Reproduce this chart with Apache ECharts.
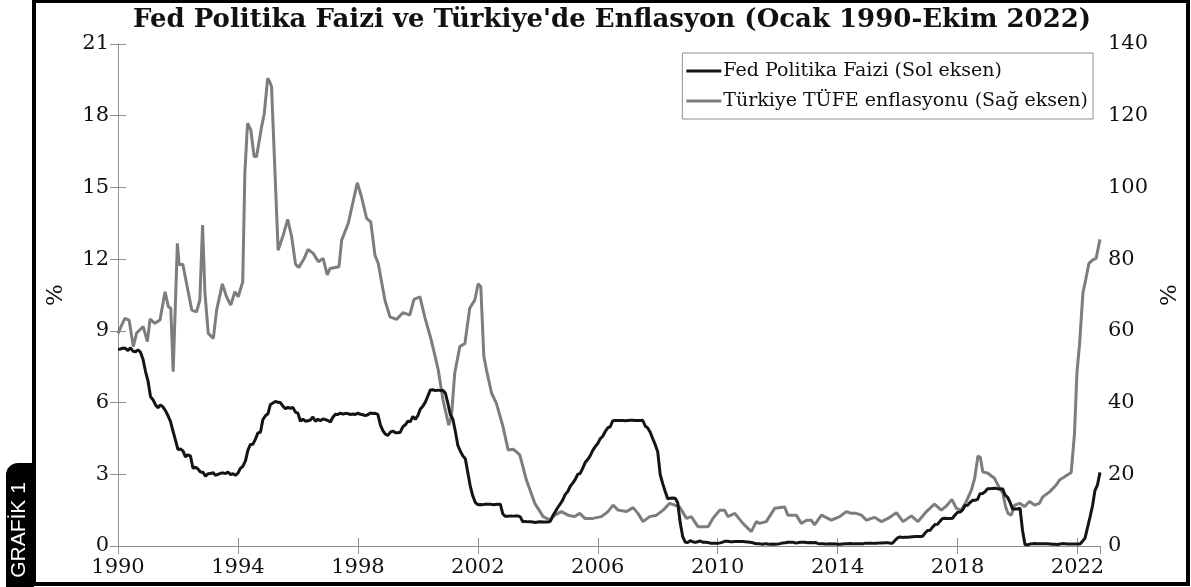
<!DOCTYPE html>
<html><head><meta charset="utf-8">
<script src="https://cdn.jsdelivr.net/npm/echarts@6/dist/echarts.min.js"></script>
<style>html,body{margin:0;padding:0;background:#fff}#c{width:1191px;height:587px}</style>
</head><body><div id="c"></div>
<script>
const titleText = "Fed Politika Faizi ve Türkiye'de Enflasyon (Ocak 1990-Ekim 2022)";
const seriesNames = ['Fed Politika Faizi (Sol eksen)', 'Türkiye TÜFE enflasyonu (Sağ eksen)'];
const xTickLabels = ['1990','1994','1998','2002','2006','2010','2014','2018','2022'];
const leftTicks = [0,3,6,9,12,15,18,21];
const rightTicks = [0,20,40,60,80,100,120,140];
const sideLabel = 'GRAFİK 1';
const startYear = 1990;

// Fed policy rate, monthly from Jan 1990 to Oct 2022 (left axis, %)
const fedRate = [
8.23,8.24,8.28,8.26,8.18,8.29,8.15,8.13,8.20,8.11,7.81,7.31,
6.91,6.25,6.12,5.91,5.78,5.90,5.82,5.66,5.45,5.21,4.81,4.43,
4.03,4.06,3.98,3.73,3.82,3.76,3.25,3.30,3.22,3.10,3.09,2.92,
3.02,3.03,3.07,2.96,3.00,3.04,3.06,3.03,3.09,2.99,3.02,2.96,
3.05,3.25,3.34,3.56,4.01,4.25,4.26,4.47,4.73,4.76,5.29,5.45,
5.53,5.92,5.98,6.05,6.01,6.00,5.85,5.74,5.80,5.76,5.80,5.60,
5.56,5.22,5.31,5.22,5.24,5.27,5.40,5.22,5.30,5.24,5.31,5.29,
5.25,5.19,5.39,5.51,5.50,5.56,5.52,5.54,5.54,5.50,5.52,5.50,
5.56,5.51,5.49,5.45,5.49,5.56,5.54,5.55,5.51,5.07,4.83,4.68,
4.63,4.76,4.81,4.74,4.74,4.76,4.99,5.07,5.22,5.20,5.42,5.30,
5.45,5.73,5.85,6.02,6.27,6.53,6.54,6.50,6.52,6.51,6.51,6.40,
5.98,5.49,5.31,4.80,4.21,3.97,3.77,3.65,3.07,2.49,2.09,1.82,
1.73,1.74,1.73,1.75,1.75,1.75,1.73,1.74,1.75,1.75,1.34,1.24,
1.24,1.26,1.25,1.26,1.26,1.22,1.01,1.03,1.01,1.01,1.00,0.98,
1.00,1.01,1.00,1.00,1.00,1.03,1.26,1.43,1.61,1.76,1.93,2.16,
2.28,2.50,2.63,2.79,3.00,3.04,3.26,3.50,3.62,3.78,4.00,4.16,
4.29,4.49,4.59,4.79,4.94,4.99,5.24,5.25,5.25,5.25,5.25,5.24,
5.25,5.26,5.26,5.25,5.25,5.25,5.26,5.02,4.94,4.76,4.49,4.24,
3.94,2.98,2.61,2.28,1.98,2.00,2.01,2.00,1.81,0.97,0.39,0.16,
0.15,0.22,0.18,0.15,0.18,0.21,0.16,0.16,0.15,0.12,0.12,0.12,
0.11,0.13,0.16,0.20,0.20,0.18,0.18,0.19,0.19,0.19,0.19,0.18,
0.17,0.16,0.14,0.10,0.09,0.09,0.07,0.10,0.08,0.07,0.08,0.07,
0.08,0.10,0.13,0.14,0.16,0.16,0.16,0.13,0.14,0.16,0.16,0.16,
0.14,0.15,0.14,0.15,0.11,0.09,0.09,0.08,0.08,0.09,0.08,0.09,
0.07,0.07,0.08,0.09,0.09,0.10,0.09,0.09,0.09,0.09,0.09,0.12,
0.11,0.11,0.11,0.12,0.12,0.13,0.13,0.14,0.14,0.12,0.12,0.24,
0.34,0.38,0.36,0.37,0.37,0.38,0.39,0.40,0.40,0.40,0.41,0.54,
0.65,0.66,0.79,0.90,0.91,1.04,1.15,1.16,1.15,1.15,1.16,1.30,
1.41,1.42,1.51,1.69,1.70,1.82,1.91,1.91,1.95,2.19,2.20,2.27,
2.40,2.40,2.41,2.42,2.39,2.38,2.40,2.13,2.04,1.83,1.55,1.55,
1.55,1.58,0.65,0.05,0.05,0.08,0.09,0.10,0.09,0.09,0.09,0.09,
0.09,0.08,0.07,0.07,0.06,0.08,0.10,0.09,0.08,0.08,0.08,0.08,
0.08,0.08,0.20,0.33,0.77,1.21,1.68,2.33,2.56,3.08
];

// Turkey CPI inflation (right axis, %), [decimal year, value]
const tufe = [
[1990.00,59.3],[1990.12,61.5],[1990.23,63.5],[1990.37,63.0],[1990.51,55.6],[1990.62,59.4],
[1990.84,61.2],[1990.98,57.0],[1991.07,63.3],[1991.23,62.1],[1991.40,63.0],[1991.57,70.9],
[1991.68,66.7],[1991.76,66.3],[1991.84,48.6],[1991.98,84.4],[1992.04,78.4],[1992.16,78.6],
[1992.46,65.8],[1992.62,65.3],[1992.73,68.6],[1992.82,89.5],[1992.90,70.5],[1993.01,59.3],
[1993.18,57.9],[1993.29,65.8],[1993.48,73.1],[1993.62,69.5],[1993.76,67.2],[1993.90,70.9],
[1994.01,69.5],[1994.16,73.7],[1994.23,103.9],[1994.32,117.9],[1994.43,116.0],[1994.54,108.6],
[1994.62,108.6],[1994.79,116.9],[1994.88,120.7],[1994.99,130.4],[1995.06,129.5],[1995.12,128.1],
[1995.34,82.5],[1995.51,86.7],[1995.66,91.1],[1995.79,86.3],[1995.92,78.6],[1996.03,77.7],
[1996.21,80.2],[1996.34,82.7],[1996.51,81.6],[1996.68,79.3],[1996.84,80.2],[1996.98,75.6],
[1997.07,77.4],[1997.37,77.9],[1997.46,85.3],[1997.68,90.0],[1997.98,101.3],[1998.12,97.4],
[1998.29,91.4],[1998.43,90.4],[1998.57,81.1],[1998.68,78.8],[1998.90,68.6],[1999.07,63.9],
[1999.29,63.2],[1999.51,65.1],[1999.73,64.4],[1999.87,68.8],[2000.07,69.5],[2000.23,63.9],
[2000.46,57.0],[2000.68,49.1],[2000.84,40.7],[2001.03,33.7],[2001.12,36.1],[2001.23,48.2],
[2001.40,55.6],[2001.57,56.5],[2001.73,66.3],[2001.90,68.6],[2002.01,73.1],[2002.10,72.3],
[2002.20,53.0],[2002.29,49.0],[2002.46,42.6],[2002.62,39.8],[2002.84,33.3],[2003.01,26.8],
[2003.18,27.0],[2003.40,25.4],[2003.62,18.4],[2003.90,11.9],[2004.18,8.2],[2004.40,7.3],
[2004.57,8.6],[2004.79,9.6],[2005.01,8.6],[2005.23,8.2],[2005.40,9.1],[2005.57,7.7],
[2005.84,7.7],[2006.12,8.2],[2006.34,9.6],[2006.51,11.4],[2006.68,10.0],[2006.96,9.6],
[2007.18,10.7],[2007.34,9.1],[2007.51,6.8],[2007.73,8.2],[2007.96,8.6],[2008.18,10.0],
[2008.40,11.9],[2008.57,11.4],[2008.73,10.9],[2008.96,7.7],[2009.12,8.2],[2009.34,5.4],
[2009.68,5.4],[2009.84,7.7],[2010.07,10.0],[2010.23,10.0],[2010.34,8.2],[2010.57,9.1],
[2010.84,6.3],[2011.12,4.0],[2011.29,6.8],[2011.40,6.3],[2011.62,6.8],[2011.90,10.5],
[2012.23,10.9],[2012.34,8.6],[2012.62,8.6],[2012.79,6.3],[2012.96,7.2],[2013.12,7.2],
[2013.23,5.9],[2013.46,8.6],[2013.79,7.2],[2014.07,8.2],[2014.29,9.6],[2014.46,9.1],
[2014.62,9.1],[2014.79,8.6],[2014.96,7.2],[2015.23,8.0],[2015.46,6.8],[2015.68,7.7],
[2015.96,9.3],[2016.18,6.8],[2016.46,8.4],[2016.68,6.8],[2016.96,9.6],[2017.23,11.7],
[2017.46,10.0],[2017.62,11.1],[2017.81,13.0],[2017.96,10.5],[2018.12,10.0],[2018.29,12.4],
[2018.46,15.6],[2018.57,18.9],[2018.68,25.1],[2018.76,24.7],[2018.84,20.7],[2019.01,20.3],
[2019.23,18.9],[2019.40,16.1],[2019.51,14.7],[2019.60,11.0],[2019.68,9.1],[2019.79,8.6],
[2019.90,11.4],[2020.07,11.9],[2020.23,11.0],[2020.40,12.4],[2020.57,11.4],[2020.73,11.9],
[2020.84,13.7],[2021.07,15.1],[2021.29,17.0],[2021.40,18.4],[2021.57,19.3],[2021.79,20.5],
[2021.90,31.4],[2021.98,48.2],[2022.07,56.5],[2022.18,70.5],[2022.27,74.2],[2022.38,78.8],
[2022.51,79.8],[2022.62,80.2],[2022.75,85.5]
];

const axisGray = '#8f8f8f';
const serif = "'DejaVu Serif', 'Liberation Serif', serif";
const monthsMax = (2022 - startYear) * 12 + 9;

const fedData = fedRate.map((v, i) => [i, v]);
const tufeData = tufe.map(([y, v]) => [Math.round((y - startYear) * 12 * 100) / 100, v]);

const chart = echarts.init(document.getElementById('c'), null, {renderer: 'canvas'});
const xCommon = {
  type: 'value', min: 0, max: monthsMax, interval: 48,
  axisLine: {show: true, lineStyle: {color: axisGray, width: 1}},
  axisTick: {show: true, inside: true, length: 8, lineStyle: {color: axisGray}},
  splitLine: {show: false}
};
chart.setOption({
  animation: false,
  backgroundColor: '#fff',
  title: {
    text: titleText, left: 607, top: 2, textAlign: 'center',
    textStyle: {fontFamily: "'DejaVu Serif', serif", fontWeight: 'bold', fontSize: 26, color: '#111'}
  },
  legend: {
    orient: 'vertical', right: 98, top: 53,
    padding: [8, 5, 8, 4], itemGap: 10,
    icon: 'rect', itemWidth: 35, itemHeight: 3,
    borderColor: axisGray, borderWidth: 1, borderRadius: 0,
    backgroundColor: '#fff',
    textStyle: {fontFamily: serif, fontSize: 19, color: '#111', lineHeight: 20, padding: [0, 0, 0, -3]},
    data: seriesNames
  },
  grid: {left: 118, right: 91, top: 44, bottom: 41},
  xAxis: [
    Object.assign({}, xCommon, {
      position: 'bottom',
      axisLabel: {show: true, margin: 11, fontFamily: serif, fontSize: 21, color: '#111',
        formatter: v => xTickLabels[Math.round(v / 48)] || ''}
    }),
    Object.assign({}, xCommon, {position: 'top', axisLabel: {show: false}})
  ],
  yAxis: [
    {
      type: 'value', min: 0, max: 21, interval: 3, position: 'left',
      name: '%', nameLocation: 'middle', nameGap: 50,
      nameTextStyle: {fontFamily: serif, fontSize: 23, color: '#111'},
      axisLine: {show: true, lineStyle: {color: axisGray}},
      axisTick: {show: true, inside: true, length: 8, lineStyle: {color: axisGray}},
      axisLabel: {margin: 9, fontFamily: serif, fontSize: 21, color: '#111',
        formatter: v => String(leftTicks[Math.round(v / 3)])},
      splitLine: {show: false}
    },
    {
      type: 'value', min: 0, max: 140, interval: 20, position: 'right',
      name: '%', nameLocation: 'middle', nameGap: 54,
      nameTextStyle: {fontFamily: serif, fontSize: 23, color: '#111'},
      axisLine: {show: true, lineStyle: {color: axisGray}},
      axisTick: {show: true, inside: true, length: 8, lineStyle: {color: axisGray}},
      axisLabel: {margin: 8, fontFamily: serif, fontSize: 21, color: '#111',
        formatter: v => String(rightTicks[Math.round(v / 20)])},
      splitLine: {show: false}
    }
  ],
  series: [
    {
      name: seriesNames[0], type: 'line', xAxisIndex: 0, yAxisIndex: 0,
      data: fedData, symbol: 'none', z: 3,
      lineStyle: {color: '#141414', width: 3}, itemStyle: {color: '#141414'}
    },
    {
      name: seriesNames[1], type: 'line', xAxisIndex: 0, yAxisIndex: 1,
      data: tufeData, symbol: 'none', z: 2,
      lineStyle: {color: '#7d7d7d', width: 3}, itemStyle: {color: '#7d7d7d'}
    }
  ],
  graphic: [
    {type: 'rect', shape: {x: 34, y: 1, width: 1154, height: 583},
     style: {fill: 'none', stroke: '#000', lineWidth: 4}, z: 100},
    {type: 'rect', shape: {x: 6, y: 463, width: 28, height: 130, r: [12, 0, 0, 0]},
     style: {fill: '#000'}, z: 100},
    {type: 'text', x: 19, y: 530, rotation: Math.PI / 2, z: 101,
     style: {text: sideLabel, fill: '#fff', font: "21px 'Liberation Sans', Arial, sans-serif",
             textAlign: 'center', textVerticalAlign: 'middle'}}
  ]
});
</script></body></html>
